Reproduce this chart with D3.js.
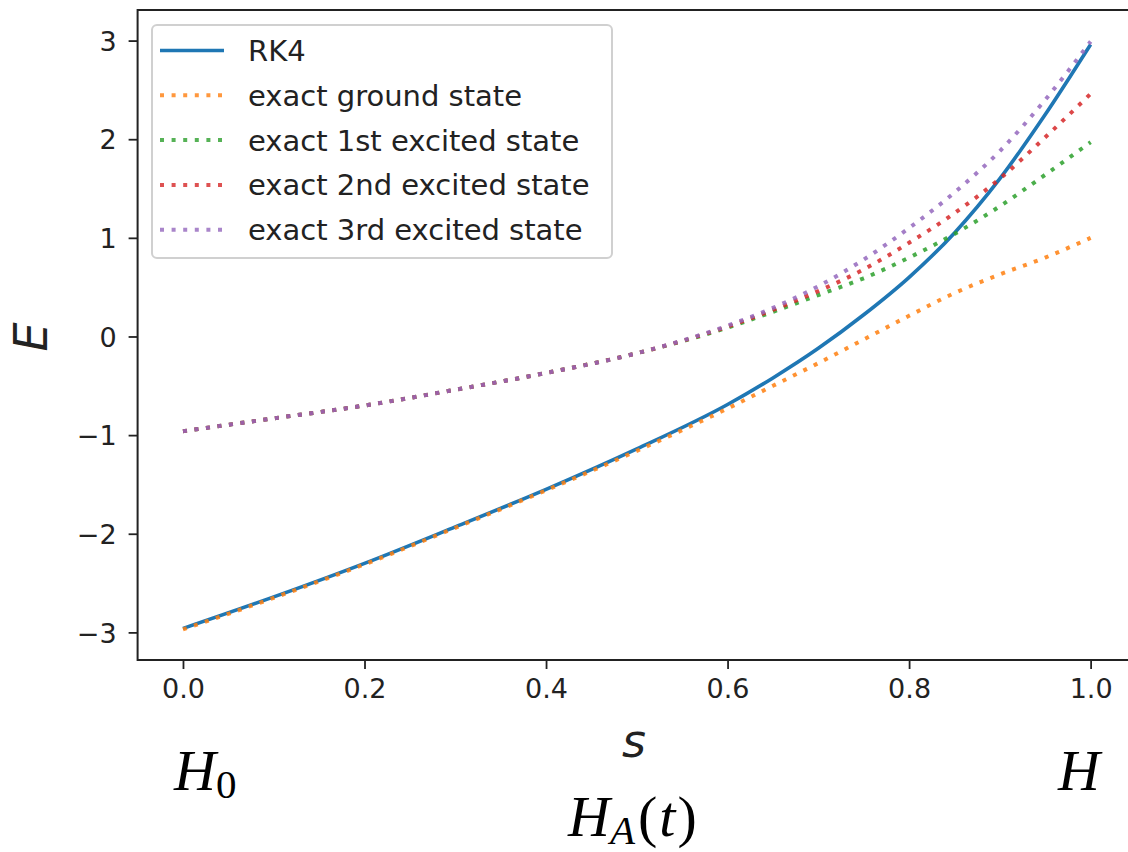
<!DOCTYPE html>
<html>
<head>
<meta charset="utf-8">
<script src="https://cdn.jsdelivr.net/npm/d3@7"></script>
<style>
  body { margin: 0; background: #fff; }
  svg { display: block; }
</style>
</head>
<body>
<div id="chart"></div>
<script>
// values
const s_vals   = [0, 0.1, 0.2, 0.3, 0.4, 0.5, 0.6, 0.65, 0.7, 0.75, 0.8, 0.85, 0.9, 0.95, 1.0];
const rk4      = [-2.96, -2.64, -2.30, -1.93, -1.55, -1.14, -0.69, -0.42, -0.12, 0.22, 0.60, 1.05, 1.60, 2.25, 2.96];
const ground   = [-2.97, -2.65, -2.31, -1.94, -1.56, -1.16, -0.73, -0.50, -0.27, -0.03, 0.21, 0.44, 0.63, 0.80, 1.00];
const excited1 = [-0.96, -0.83, -0.70, -0.54, -0.37, -0.17, 0.09, 0.25, 0.42, 0.59, 0.80, 1.04, 1.32, 1.64, 1.97];
const excited2 = [-0.96, -0.83, -0.70, -0.54, -0.37, -0.17, 0.10, 0.27, 0.46, 0.68, 0.95, 1.25, 1.60, 2.02, 2.46];
const excited3 = [-0.96, -0.83, -0.70, -0.54, -0.37, -0.17, 0.11, 0.29, 0.51, 0.78, 1.10, 1.46, 1.88, 2.40, 2.99];

const series_names  = ["RK4", "exact ground state", "exact 1st excited state", "exact 2nd excited state", "exact 3rd excited state"];
const series_colors = ["#1f77b4", "#ff7f0e", "#2ca02c", "#d62728", "#9467bd"];
const series_values = [rk4, ground, excited1, excited2, excited3];

const x_ticks = [0, 0.2, 0.4, 0.6, 0.8, 1.0];
const y_ticks = [-3, -2, -1, 0, 1, 2, 3];

const width = 1128, height = 852;
const plot_left = 137.6, plot_right = 1136, plot_top = 10, plot_bottom = 660;

const svg = d3.select("#chart")
              .append("svg")
              .attr("width", width)
              .attr("height", height);

const x = d3.scaleLinear().domain([-0.05, 1.05]).range([plot_left, plot_right]);
const y = d3.scaleLinear().domain([-3.28, 3.31]).range([plot_bottom, plot_top]);

svg.append("clipPath")
   .attr("id", "plot_clip")
   .append("rect")
   .attr("x", plot_left).attr("y", plot_top)
   .attr("width", plot_right - plot_left).attr("height", plot_bottom - plot_top);

// curves
const line = d3.line()
               .x(d => x(d[0]))
               .y(d => y(d[1]))
               .curve(d3.curveMonotoneX);

const curves = svg.append("g").attr("clip-path", "url(#plot_clip)");
series_values.forEach((vals, i) => {
    const pts = s_vals.map((sv, j) => [sv, vals[j]]);
    curves.append("path")
          .attr("d", line(pts))
          .attr("fill", "none")
          .attr("stroke", series_colors[i])
          .attr("stroke-width", i === 0 ? 3.6 : 4)
          .attr("stroke-dasharray", i === 0 ? null : "4,7.6")
          .attr("opacity", i === 0 ? 1 : 0.85);
});

// axes
const x_axis = svg.append("g")
    .attr("transform", `translate(0,${plot_bottom})`)
    .call(d3.axisBottom(x).tickValues(x_ticks).tickFormat(d3.format(".1f")).tickSize(9).tickPadding(10));
const y_axis = svg.append("g")
    .attr("transform", `translate(${plot_left},0)`)
    .call(d3.axisLeft(y).tickValues(y_ticks).tickFormat(d3.format("d")).tickSize(9).tickPadding(12));

[x_axis, y_axis].forEach(ax => {
    ax.select(".domain").remove();
    ax.selectAll("line").attr("stroke", "#222").attr("stroke-width", 1.8);
    ax.selectAll("text")
      .attr("font-family", "DejaVu Sans")
      .attr("font-size", "27px")
      .attr("fill", "#222");
});
y_axis.selectAll("text").attr("dy", "0.36em");

// spines (right one falls outside the picture)
svg.append("rect")
   .attr("x", plot_left).attr("y", plot_top)
   .attr("width", plot_right - plot_left).attr("height", plot_bottom - plot_top)
   .attr("fill", "none")
   .attr("stroke", "#222")
   .attr("stroke-width", 2);

// axis labels
svg.append("text")
   .attr("transform", "translate(47,337) rotate(-90)")
   .attr("text-anchor", "middle")
   .attr("font-family", "DejaVu Sans")
   .attr("font-style", "italic")
   .attr("font-size", "46px")
   .attr("fill", "#222")
   .text("E");

svg.append("text")
   .attr("x", 634).attr("y", 757)
   .attr("text-anchor", "middle")
   .attr("font-family", "DejaVu Sans")
   .attr("font-style", "italic")
   .attr("font-size", "46px")
   .attr("fill", "#222")
   .text("s");

// legend
const legend = svg.append("g");
legend.append("rect")
      .attr("x", 152).attr("y", 25)
      .attr("width", 460).attr("height", 233)
      .attr("rx", 5)
      .attr("fill", "white").attr("fill-opacity", 0.8)
      .attr("stroke", "#d0d0d0").attr("stroke-width", 2);

series_names.forEach((name, i) => {
    const ly = 50.5 + i * 44.8;
    legend.append("line")
          .attr("x1", 160).attr("x2", 224)
          .attr("y1", ly).attr("y2", ly)
          .attr("stroke", series_colors[i])
          .attr("stroke-width", i === 0 ? 3.6 : 4)
          .attr("stroke-dasharray", i === 0 ? null : "4,7.6")
          .attr("opacity", i === 0 ? 1 : 0.8);
    legend.append("text")
          .attr("x", 248).attr("y", ly)
          .attr("dy", "0.36em")
          .attr("font-family", "DejaVu Sans")
          .attr("font-size", "29px")
          .attr("fill", "#222")
          .text(name);
});

// annotations below the plot
const serif = "Liberation Serif";
const h0 = svg.append("text")
   .attr("x", 174).attr("y", 790)
   .attr("font-family", serif)
   .attr("font-size", "58px")
   .attr("fill", "black");
h0.append("tspan").attr("font-style", "italic").text("H");
h0.append("tspan").attr("font-size", "41px").attr("dy", 8).text("0");

svg.append("text")
   .attr("x", 1058).attr("y", 790)
   .attr("font-family", serif)
   .attr("font-style", "italic")
   .attr("font-size", "58px")
   .attr("fill", "black")
   .text("H");

const ha = svg.append("text")
   .attr("x", 568).attr("y", 836)
   .attr("font-family", serif)
   .attr("font-size", "58px")
   .attr("fill", "black");
ha.append("tspan").attr("font-style", "italic").text("H");
ha.append("tspan").attr("font-style", "italic").attr("font-size", "41px").attr("dy", 8).text("A");
ha.append("tspan").attr("dy", -8).attr("dx", 3).text("(");
ha.append("tspan").attr("font-style", "italic").attr("dx", 2).text("t");
ha.append("tspan").attr("dx", 2).text(")");
</script>
</body>
</html>
